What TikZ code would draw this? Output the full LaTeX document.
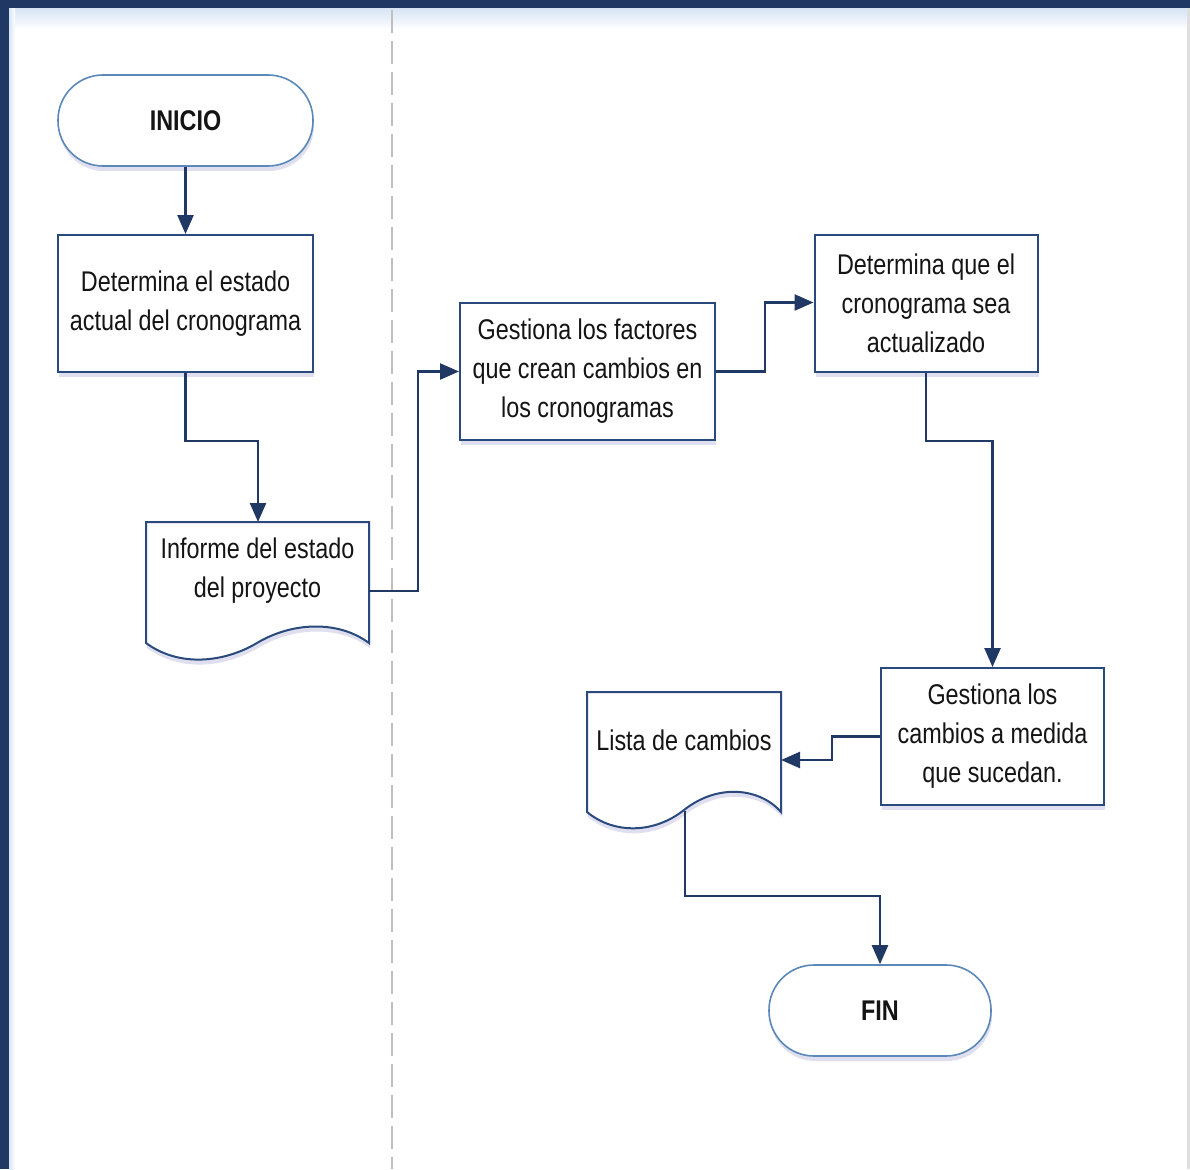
\documentclass[tikz,border=0pt]{standalone}
\usepackage{fontspec}
\setmainfont{Liberation Sans}[FakeStretch=0.82]
\usetikzlibrary{arrows.meta,shadows,calc}
\definecolor{navy}{HTML}{1F3864}
\definecolor{boxline}{HTML}{2A4A7E}
\definecolor{termline}{HTML}{5A88B8}
\definecolor{txt}{HTML}{141414}
\definecolor{lane}{HTML}{C0C0C0}
\definecolor{glow}{HTML}{D6E4F5}
\tikzset{
  shad/.style={drop shadow={shadow xshift=1pt,shadow yshift=-5pt,opacity=0.18,fill=blue!35!gray}},
  proc/.style={draw=boxline,line width=2pt,fill=white,shad,rectangle,align=center,
    text=txt,font=\fontsize{28.5}{39}\selectfont,inner sep=0pt},
  term/.style={draw=termline,line width=1.6pt,fill=white,shad,rectangle,rounded corners=45pt,
    align=center,text=txt,font=\fontsize{28.5}{39}\selectfont\bfseries,inner sep=0pt},
  doctext/.style={align=center,text=txt,font=\fontsize{28.5}{39}\selectfont,inner sep=0pt},
  docline/.style={draw=boxline,line width=2pt,fill=white,shad},
  conn/.style={draw=navy,line width=2.5pt,-{Triangle[length=19pt,width=16pt]}},
}
\begin{document}
\begin{tikzpicture}[x=1pt,y=-1pt]
\useasboundingbox (0,0) rectangle (1190,1169);
\fill[white] (0,0) rectangle (1190,1169);
% frame
\shade[top color=glow,bottom color=white] (9,8) rectangle (1190,30);
\shade[left color=glow,right color=white] (9,8) rectangle (15,1169);
\fill[navy] (0,0) rectangle (1190,8);
\fill[navy] (0,0) rectangle (9,1169);
\fill[gray!25] (1187,8) rectangle (1190,1169);
% lane divider
\draw[lane,line width=2pt,dash pattern=on 23pt off 8pt] (392,10) -- (392,1169);

% nodes
\node[term,minimum width=255pt,minimum height=91pt] (start) at (185.5,120.5) {INICIO};
\node[proc,minimum width=255pt,minimum height=137pt] (p1) at (185.5,303.5)
  {Determina el estado\\actual del cronograma};
\node[proc,minimum width=255pt,minimum height=137pt] (p2) at (587.5,371.5)
  {Gestiona los factores\\que crean cambios en\\los cronogramas};
\node[proc,minimum width=223pt,minimum height=137pt] (p3) at (926,303.5)
  {Determina que el\\cronograma sea\\actualizado};
\node[proc,minimum width=223pt,minimum height=137pt] (p4) at (992.5,736.5)
  {Gestiona los\\cambios a medida\\que sucedan.};
\node[term,minimum width=222pt,minimum height=91pt] (fin) at (880,1010.5) {FIN};

% document 1
\path[docline] (146,522) -- (369,522) -- (369,643)
  .. controls (338,620) and (292,622) .. (257,643)
  .. controls (225,662) and (180,668) .. (146,643) -- cycle;
\node[doctext] (d1) at (257.5,571) {Informe del estado\\del proyecto};
\coordinate (d1top) at (258,522);
\coordinate (d1right) at (369,591);

% document 2
\path[docline] (587,692) -- (781,692) -- (781,812)
  .. controls (760,788) and (718,783) .. (684,810)
  .. controls (655,833) and (615,835) .. (587,812) -- cycle;
\node[doctext] (d2) at (684,740) {Lista de cambios};
\coordinate (d2right) at (781,760);
\coordinate (d2bottom) at (685,811);

% connectors
\draw[conn] (start) -- (p1);
\draw[conn] (p1.south) -- ++(0,68) -| (d1top);
\draw[conn] (d1right) -- (418,591) |- (p2.west);
\draw[conn] (p2.east) -- (765,371.5) |- ($(p3.west)+(0,-1)$);
\draw[conn] (p3.south) -- ++(0,68) -| (p4.north);
\draw[conn] (p4.west) -- (832,736.5) |- (d2right);
\draw[conn] (d2bottom) -- (685,896) -| (fin.north);
\end{tikzpicture}
\end{document}
